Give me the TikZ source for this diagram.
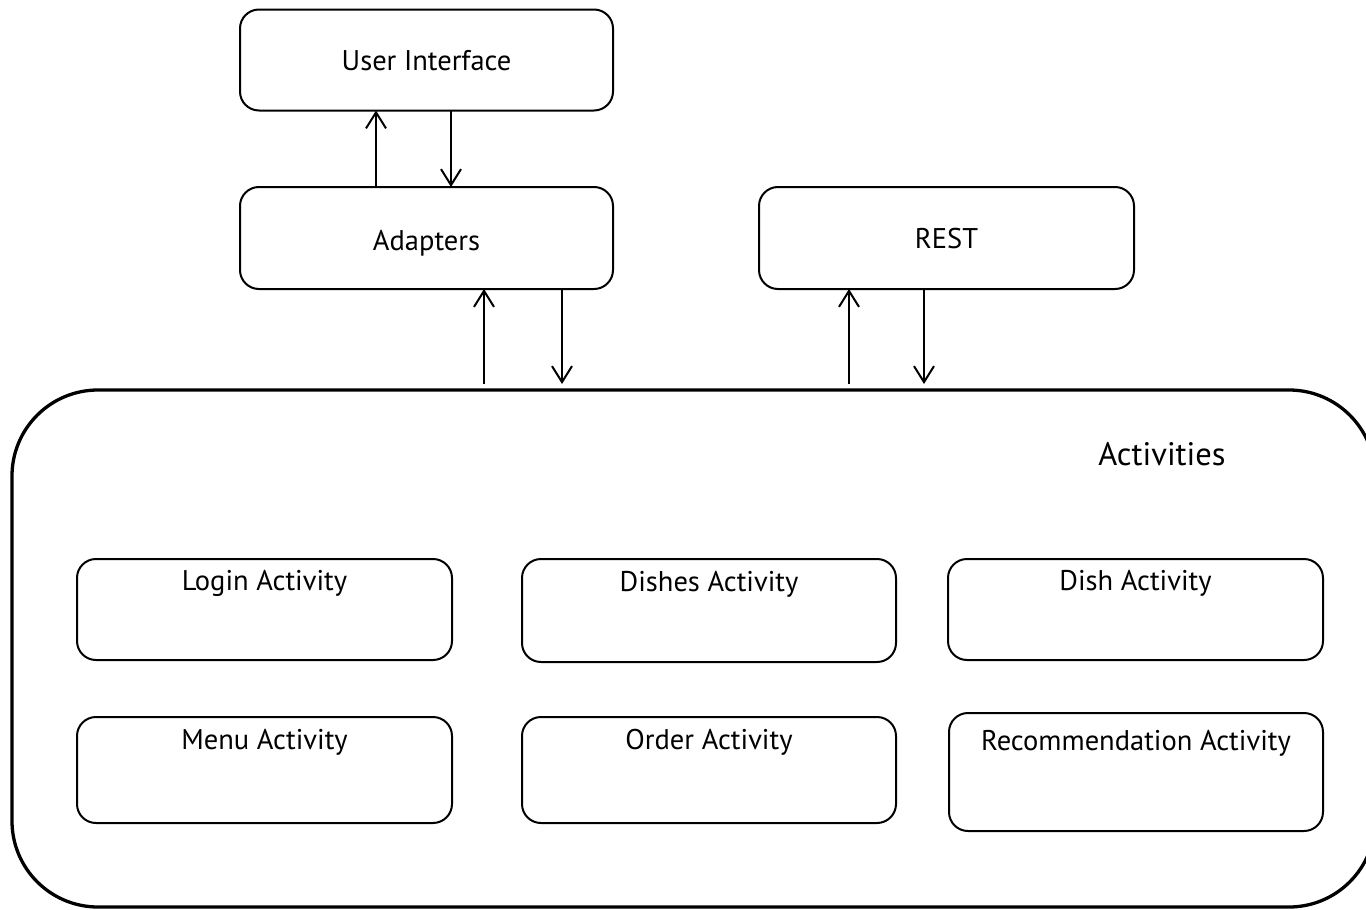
\documentclass[tikz,border=0pt]{standalone}
\usepackage{fontspec}
\setmainfont{PT Sans}
\usetikzlibrary{arrows.meta}

\tikzset{
  box/.style={draw, line width=2pt, rounded corners=19pt, inner sep=0pt, outer sep=0pt},
  frame/.style={draw, line width=3.3pt, rounded corners=86pt, inner sep=0pt, outer sep=0pt},
  flow/.style={line width=2pt, -{Straight Barb[length=16pt,width=20pt,line width=2pt]}},
  caption/.style={anchor=base, font=\fontsize{28.5}{34}\selectfont}
}

\begin{document}
\begin{tikzpicture}[x=1pt, y=-1pt]
  \clip (0,0) rectangle (1366,910);
  \fill[white] (0,0) rectangle (1366,910);

  % upper layer
  \node[box, minimum width=373pt, minimum height=101pt,
        label={[caption, yshift=-61pt]north:User Interface}] (ui) at (426.5,60) {};
  \node[box, minimum width=373pt, minimum height=102pt,
        label={[caption, yshift=-63pt]north:Adapters}] (ada) at (426.5,238) {};
  \node[box, minimum width=375pt, minimum height=102pt,
        label={[caption, yshift=-61pt]north:REST}] (rest) at (946.5,238) {};

  % activities container
  \node[frame, minimum width=1363pt, minimum height=517pt] (act) at (693.5,648.5) {};
  \node[font=\fontsize{32.5}{38}\selectfont, anchor=base] (acttitle) at (1162,465) {Activities};

  % activity boxes
  \node[box, minimum width=375pt, minimum height=101pt,
        label={[caption, yshift=-31pt]north:Login Activity}] (login) at (264.5,609.5) {};
  \node[box, minimum width=374pt, minimum height=103pt,
        label={[caption, yshift=-32pt]north:Dishes Activity}] (dishes) at (709,610.5) {};
  \node[box, minimum width=375pt, minimum height=101pt,
        label={[caption, yshift=-31pt]north:Dish Activity}] (dish) at (1135.5,609.5) {};
  \node[box, minimum width=375pt, minimum height=106pt,
        label={[caption, yshift=-32pt]north:Menu Activity}] (menu) at (264.5,770) {};
  \node[box, minimum width=374pt, minimum height=106pt,
        label={[caption, yshift=-32pt]north:Order Activity}] (order) at (709,770) {};
  \node[box, minimum width=374pt, minimum height=118pt,
        label={[caption, yshift=-37pt]north:Recommendation Activity}] (recom) at (1136,772) {};

  % connectors
  \draw[flow] ([xshift=-50.5pt]ada.north) -- ([xshift=-50.5pt]ui.south);
  \draw[flow] ([xshift=24.5pt]ui.south) -- ([xshift=24.5pt]ada.north);

  \draw[flow] ([xshift=-209.5pt,yshift=6pt]act.north) -- ([xshift=57.5pt]ada.south);
  \draw[flow] ([xshift=135.5pt]ada.south) -- ([xshift=-131.5pt,yshift=6pt]act.north);

  \draw[flow] ([xshift=155.5pt,yshift=6pt]act.north) -- ([xshift=-97.5pt]rest.south);
  \draw[flow] ([xshift=-22.5pt]rest.south) -- ([xshift=230.5pt,yshift=6pt]act.north);
\end{tikzpicture}
\end{document}
